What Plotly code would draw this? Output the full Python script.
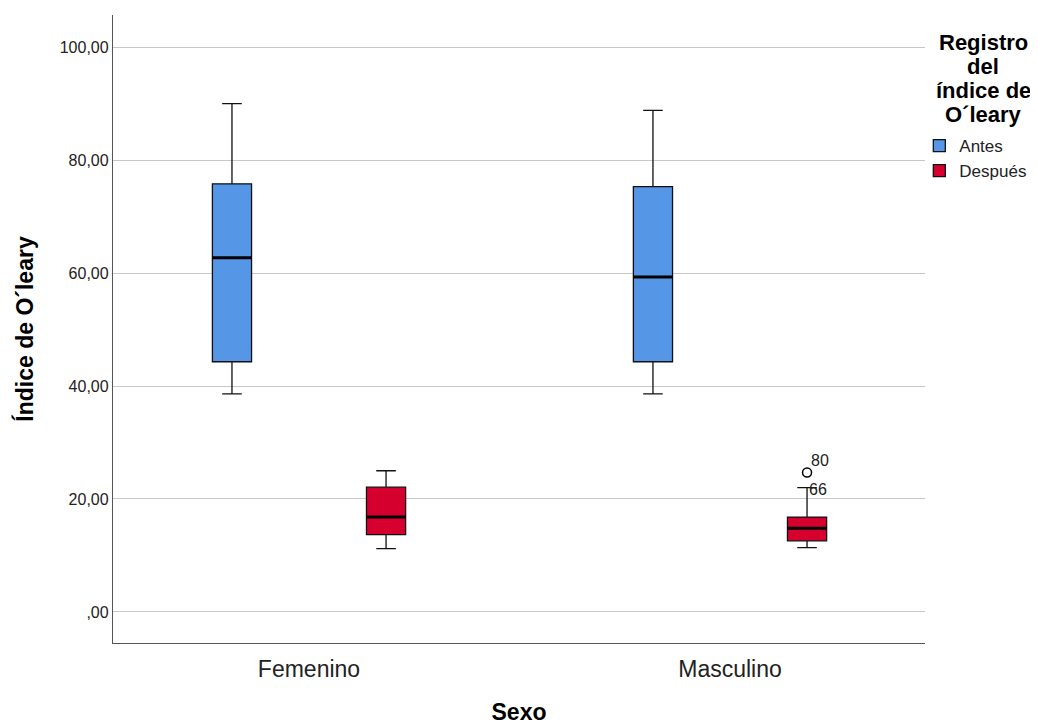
import plotly.graph_objects as go

categories = ["Femenino", "Masculino"]
cat_pos = [0, 1]
groups = ["Antes", "Después"]
colors = {"Antes": "#5596E6", "Después": "#D6002F"}
offsets = {"Antes": -0.183, "Después": 0.183}
box_w = 0.093

lower = {"Antes": [38.6, 38.6], "Después": [11.2, 11.4]}
q1 = {"Antes": [44.3, 44.3], "Después": [13.7, 12.6]}
median = {"Antes": [62.7, 59.3], "Después": [16.8, 14.8]}
q3 = {"Antes": [75.8, 75.3], "Después": [22.1, 16.8]}
upper = {"Antes": [90.0, 88.8], "Después": [25.0, 22.0]}

outlier_x = [1]
outlier_group = ["Después"]
outlier_y = [24.7]
outlier_labels = ["80"]
label66_y = [21.6]
label66_text = ["66"]

legend_title_lines = ["Registro", "del", "índice de", "O´leary"]

yticks = [0, 20, 40, 60, 80, 100]
ytick_text = [",00", "20,00", "40,00", "60,00", "80,00", "100,00"]

FONT = "Liberation Sans, Arial"

fig = go.Figure()
for g in groups:
    xs = [c + offsets[g] for c in cat_pos]
    fig.add_trace(go.Box(
        x=xs, q1=q1[g], median=median[g], q3=q3[g],
        lowerfence=lower[g], upperfence=upper[g],
        name=g, width=box_w, whiskerwidth=0.5,
        fillcolor=colors[g], line=dict(color="#111111", width=1.3),
        boxpoints=False, showlegend=True,
    ))
    for i, c in enumerate(cat_pos):
        fig.add_trace(go.Scatter(
            x=[c + offsets[g] - box_w / 2, c + offsets[g] + box_w / 2],
            y=[median[g][i], median[g][i]], mode="lines",
            line=dict(color="black", width=3), showlegend=False, hoverinfo="skip"))

ox = [outlier_x[i] + offsets[outlier_group[i]] for i in range(len(outlier_x))]
fig.add_trace(go.Scatter(
    x=ox, y=outlier_y, mode="markers",
    marker=dict(symbol="circle-open", size=9, color="black", line=dict(width=1.5)),
    showlegend=False))
for i in range(len(ox)):
    fig.add_annotation(x=ox[i], y=outlier_y[i], text=outlier_labels[i], showarrow=False,
                       xanchor="left", yanchor="bottom", xshift=2, yshift=1,
                       font=dict(family=FONT, size=16, color="#222"))
    fig.add_annotation(x=ox[i], y=label66_y[i], text=label66_text[i], showarrow=False,
                       xanchor="left", yanchor="middle", xshift=0,
                       font=dict(family=FONT, size=16, color="#222"))

for k, line in enumerate(legend_title_lines):
    fig.add_annotation(xref="paper", yref="paper", x=1.072, y=0.957 - k * 0.0385,
                       text="<b>" + line + "</b>", showarrow=False,
                       xanchor="center", yanchor="middle",
                       font=dict(family=FONT, size=22, color="black"))

fig.update_layout(
    width=1030, height=717,
    margin=dict(l=105, r=113, t=7, b=82, autoexpand=False),
    paper_bgcolor="white", plot_bgcolor="white",
    font=dict(family=FONT, color="#222"),
    legend=dict(x=0.993, y=0.820, xanchor="left", yanchor="top",
                font=dict(size=17, color="#222"), tracegroupgap=0,
                itemwidth=30, bgcolor="rgba(0,0,0,0)"),
    xaxis=dict(range=[-0.4656, 1.4632], tickvals=cat_pos, ticktext=categories,
               showgrid=False, zeroline=False, showline=True, linecolor="#555", linewidth=1.3,
               ticks="", ticklabelstandoff=5, tickfont=dict(size=23, color="#222"),
               title=dict(text="<b>Sexo</b>", font=dict(size=23, color="black"), standoff=27)),
    yaxis=dict(range=[-5.5, 105.7], tickvals=yticks, ticktext=ytick_text,
               showgrid=True, gridcolor="#C8C8C8", gridwidth=1.3, zeroline=False,
               showline=True, linecolor="#555", linewidth=1.3, ticks="",
               tickfont=dict(size=16, color="#222"),
               title=dict(text="<b>Índice de O´leary</b>", font=dict(size=23, color="black"), standoff=19)),
)
fig.write_html("out.html")
